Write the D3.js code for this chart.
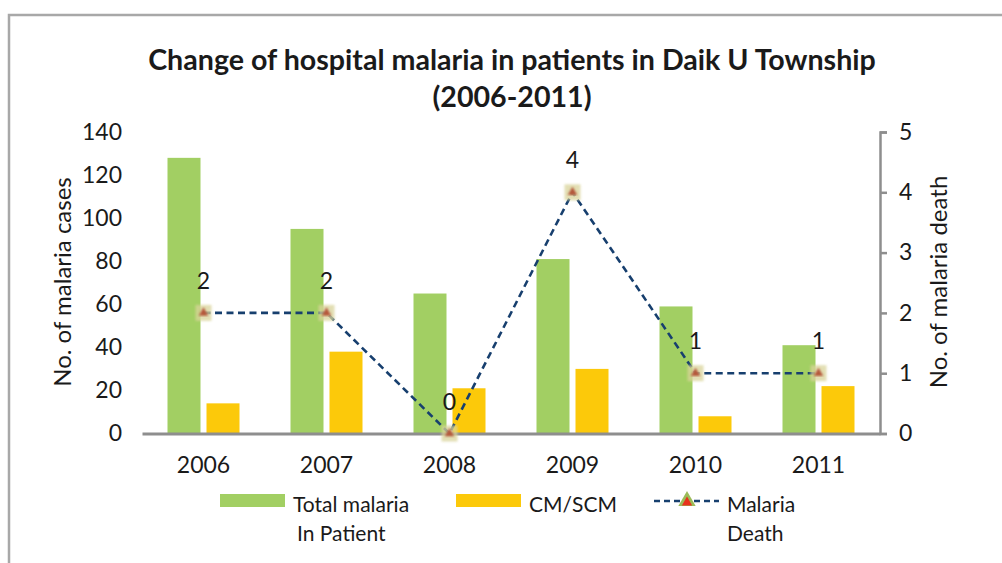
<!DOCTYPE html>
<html>
<head>
<meta charset="utf-8">
<script src="https://cdn.jsdelivr.net/npm/d3@7"></script>
<style>
  html, body { margin: 0; padding: 0; background: #fff; }
  svg { display: block; }
  text { font-family: Lato, "Open Sans", sans-serif; fill: #1a1a1a; }
</style>
</head>
<body>
<svg id="chart" width="1002" height="563"></svg>
<script>
// Yearly hospital malaria figures, Daik U Township
const years = ["2006", "2007", "2008", "2009", "2010", "2011"];
const totalInPatient = [128, 95, 65, 81, 59, 41];
const cmScm = [14, 38, 21, 30, 8, 22];
const deaths = [2, 2, 0, 4, 1, 1];
const leftTicks = [0, 20, 40, 60, 80, 100, 120, 140];
const rightTicks = [0, 1, 2, 3, 4, 5];

const titleLines = ["Change of hospital malaria in patients in Daik U Township", "(2006-2011)"];
const seriesNames = [["Total malaria", "In Patient"], ["CM/SCM"], ["Malaria", "Death"]];

const colGreen = "#a2cf63";
const colYellow = "#fcc90a";
const colLine = "#173f6e";
const colAxis = "#8e8e8e";
const fontSize = 23;

const svg = d3.select("#chart");

// Outer frame (top and left edges)
svg.append("path")
  .attr("d", "M9,1000 L9,15 L1002,15")
  .attr("fill", "none").attr("stroke", "#a8a8a8").attr("stroke-width", 2.5);

const defs = svg.append("defs");
defs.append("filter").attr("id", "soft")
  .append("feGaussianBlur").attr("stdDeviation", 0.9);

// Title
const title = svg.append("g");
titleLines.forEach((t, i) => {
  title.append("text")
    .attr("x", 512).attr("y", 70 + i * 37)
    .attr("text-anchor", "middle")
    .attr("font-weight", "bold")
    .attr("font-size", 28.6)
    .text(t);
});

// Scales
const plotLeft = 142, plotRight = 880, yBase = 433.5, yTop = 132;
const x = d3.scaleBand().domain(years).range([plotLeft, plotRight]);
const yL = d3.scaleLinear().domain([0, 140]).range([yBase, yTop]);
const yR = d3.scaleLinear().domain([0, 5]).range([yBase, yTop]);
const cx = d => x(d) + x.bandwidth() / 2;
const barW = 33, gap = 3;

// Bars
svg.append("g").selectAll("rect").data(years).join("rect")
  .attr("x", d => cx(d) - gap - barW)
  .attr("y", (d, i) => yL(totalInPatient[i]))
  .attr("width", barW)
  .attr("height", (d, i) => yBase - yL(totalInPatient[i]))
  .attr("fill", colGreen);

svg.append("g").selectAll("rect").data(years).join("rect")
  .attr("x", d => cx(d) + gap)
  .attr("y", (d, i) => yL(cmScm[i]))
  .attr("width", barW)
  .attr("height", (d, i) => yBase - yL(cmScm[i]))
  .attr("fill", colYellow);

// Left axis: labels only
const leftAxis = svg.append("g")
  .attr("transform", `translate(${plotLeft},0)`)
  .call(d3.axisLeft(yL).tickValues(leftTicks).tickSize(0).tickPadding(20));
leftAxis.select(".domain").remove();
leftAxis.selectAll("text").attr("font-size", fontSize).attr("fill", "#1a1a1a")
  .attr("font-family", "Lato, sans-serif");

// Bottom baseline and year labels
const bottomAxis = svg.append("g")
  .attr("transform", `translate(0,${yBase})`)
  .call(d3.axisBottom(x).tickSize(0).tickPadding(23));
bottomAxis.select(".domain").attr("stroke", colAxis).attr("stroke-width", 3);
bottomAxis.selectAll("text").attr("font-size", fontSize).attr("fill", "#1a1a1a")
  .attr("font-family", "Lato, sans-serif");

// Right axis
const rightAxis = svg.append("g")
  .attr("transform", `translate(${plotRight},0)`)
  .call(d3.axisRight(yR).tickValues(rightTicks).tickFormat(d3.format("d"))
    .tickSize(7).tickSizeOuter(7).tickPadding(12));
rightAxis.select(".domain").attr("stroke", colAxis).attr("stroke-width", 2.5);
rightAxis.selectAll("line").attr("stroke", colAxis).attr("stroke-width", 2.5);
rightAxis.selectAll("text").attr("font-size", fontSize).attr("fill", "#1a1a1a")
  .attr("font-family", "Lato, sans-serif");

// Axis titles
svg.append("text")
  .attr("transform", "translate(71,282) rotate(-90)")
  .attr("text-anchor", "middle").attr("font-size", 24)
  .text("No. of malaria cases");
svg.append("text")
  .attr("transform", "translate(947,282) rotate(-90)")
  .attr("text-anchor", "middle").attr("font-size", 24)
  .text("No. of malaria death");

// Death line
const line = d3.line().x(d => cx(d[0])).y(d => yR(d[1]));
svg.append("path")
  .datum(years.map((y, i) => [y, deaths[i]]))
  .attr("d", line)
  .attr("fill", "none").attr("stroke", colLine)
  .attr("stroke-width", 2.6).attr("stroke-dasharray", "7,4.5");

// Markers
const markers = svg.append("g").selectAll("g").data(years).join("g")
  .attr("transform", (d, i) => `translate(${cx(d)},${yR(deaths[i])})`);
markers.append("rect")
  .attr("x", -8).attr("y", -8).attr("width", 16).attr("height", 16)
  .attr("fill", "#d9d49a").attr("opacity", 0.75).attr("filter", "url(#soft)");
markers.append("path")
  .attr("d", d3.symbol(d3.symbolTriangle, 40))
  .attr("fill", "#b5583a").attr("filter", "url(#soft)");

// Value labels
svg.append("g").selectAll("text").data(years).join("text")
  .attr("x", d => cx(d))
  .attr("y", (d, i) => yR(deaths[i]) - 24)
  .attr("text-anchor", "middle").attr("font-size", fontSize)
  .text((d, i) => deaths[i]);

// Legend
const legend = svg.append("g");
const lgY = 501;
legend.append("rect").attr("x", 220).attr("y", lgY - 7).attr("width", 65).attr("height", 13).attr("fill", colGreen);
legend.append("rect").attr("x", 456).attr("y", lgY - 7).attr("width", 65).attr("height", 13).attr("fill", colYellow);
legend.append("line").attr("x1", 654).attr("x2", 719).attr("y1", lgY).attr("y2", lgY)
  .attr("stroke", colLine).attr("stroke-width", 2.6).attr("stroke-dasharray", "6,4");
legend.append("path").attr("transform", `translate(687,${lgY})`)
  .attr("d", d3.symbol(d3.symbolTriangle, 130)).attr("fill", "#9bbb59");
legend.append("path").attr("transform", `translate(687,${lgY + 1.5})`)
  .attr("d", d3.symbol(d3.symbolTriangle, 45)).attr("fill", "#e8321c");

const lgText = [[293, seriesNames[0]], [529, seriesNames[1]], [727, seriesNames[2]]];
lgText.forEach(([lx, lines]) => {
  lines.forEach((t, i) => {
    legend.append("text")
      .attr("x", lx + (i > 0 && lx === 293 ? 4 : 0))
      .attr("y", 512 + i * 29)
      .attr("font-size", 21)
      .text(t);
  });
});
</script>
</body>
</html>
